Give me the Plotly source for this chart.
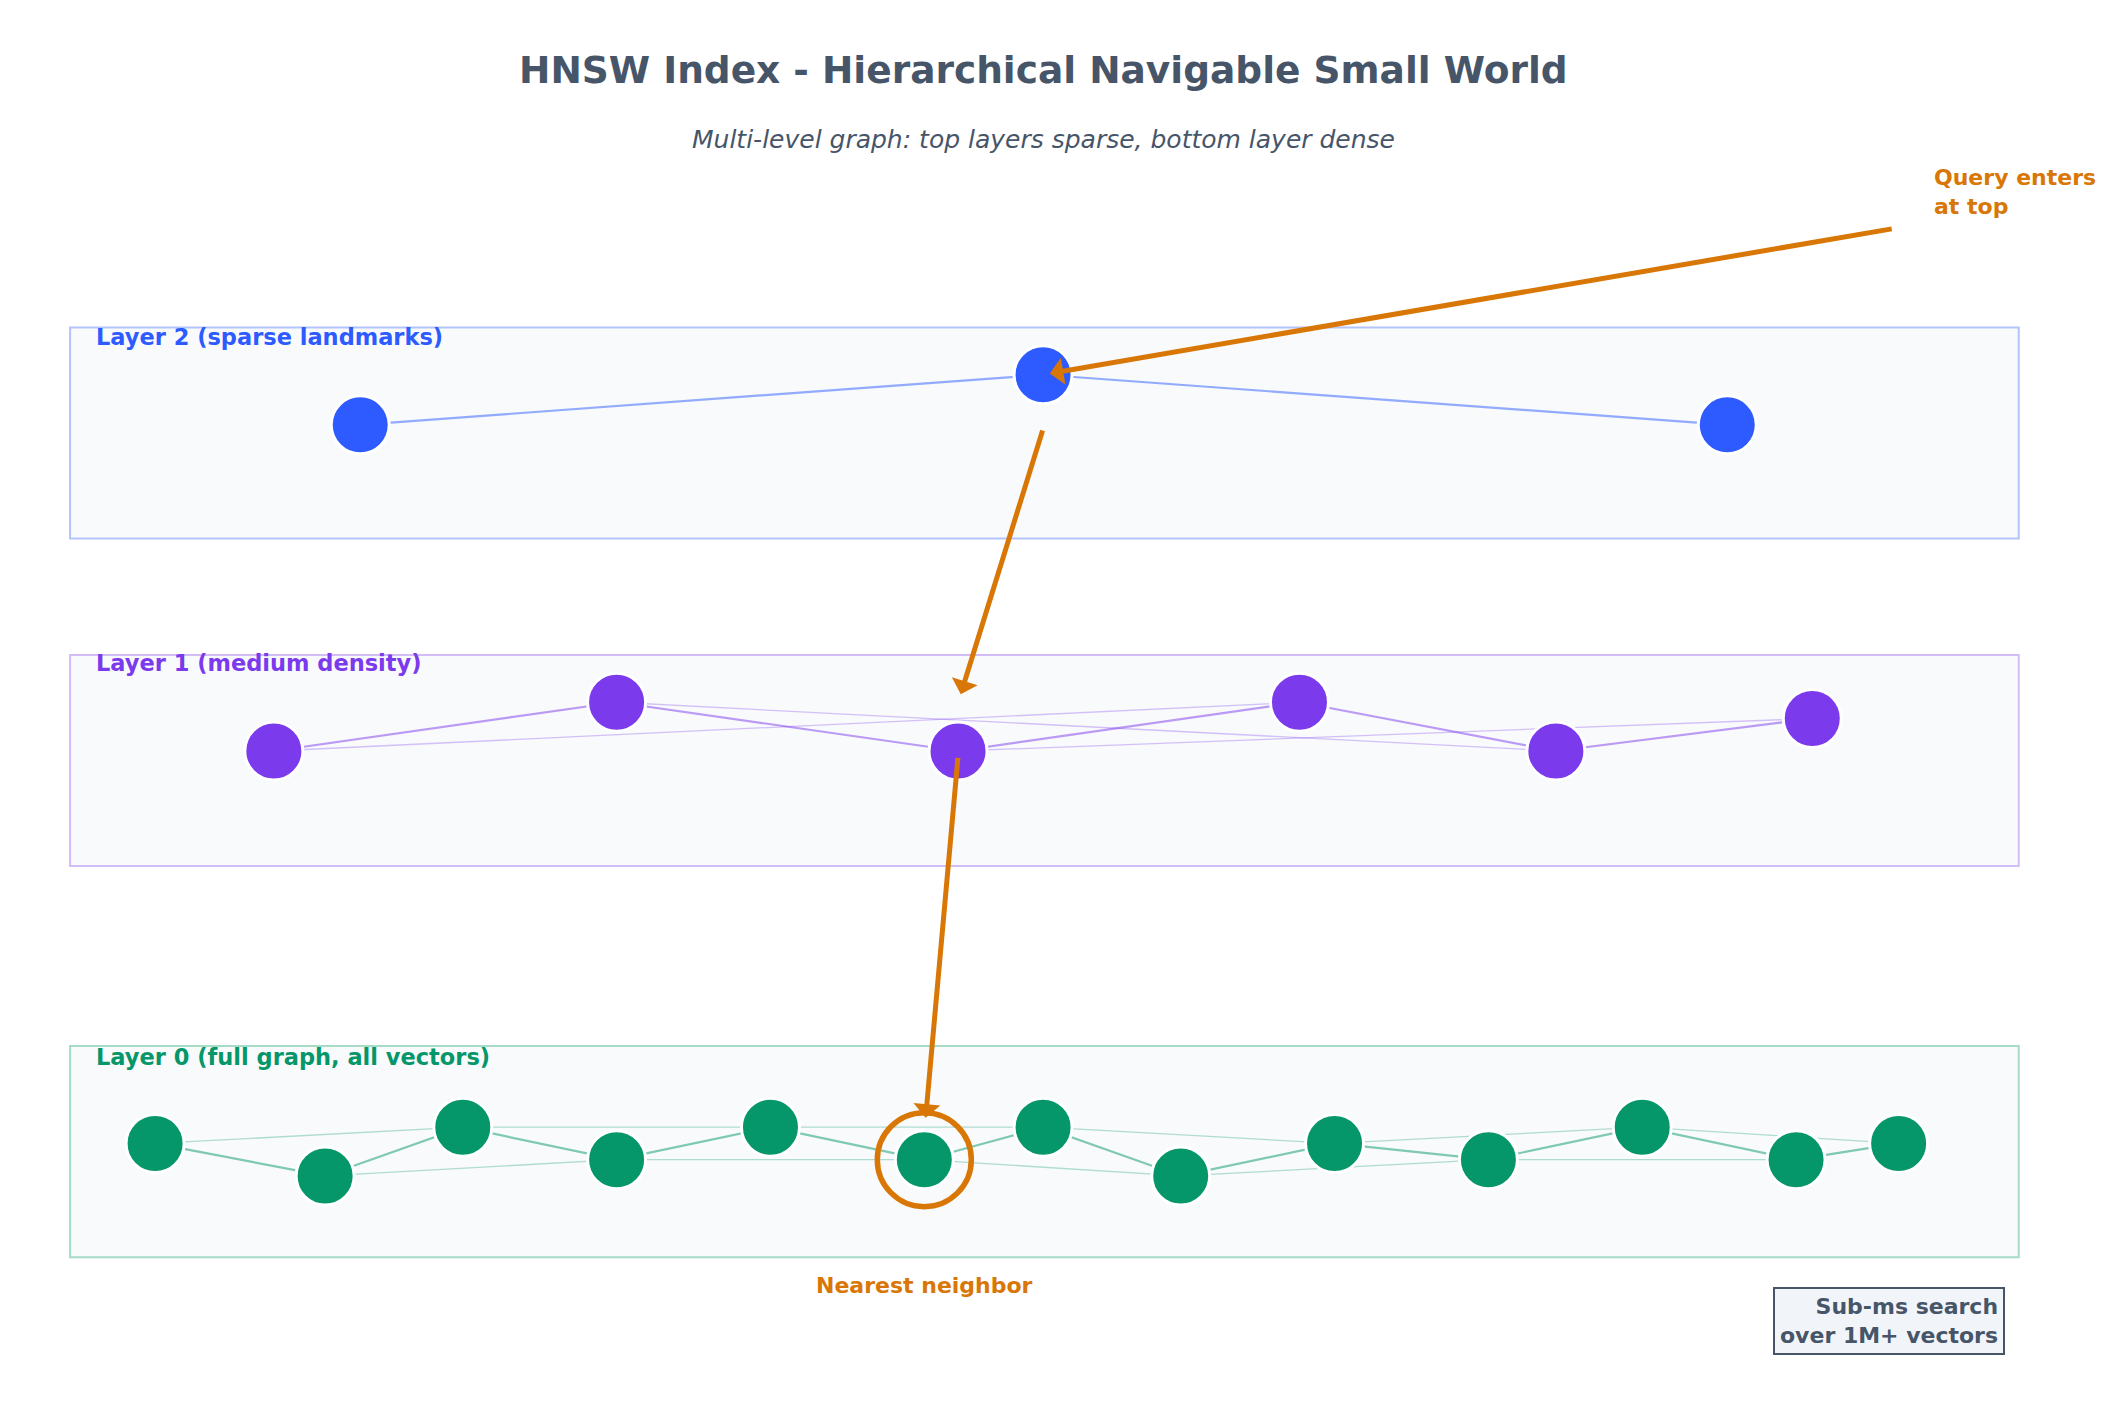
import plotly.graph_objects as go

# node positions (chart units, y downward)
L2x = [267, 773, 1280]; L2y = [315, 278, 315]
L1x = [203, 457, 710, 963, 1153, 1343]; L1y = [556, 520, 556, 520, 556, 532]
L0x = [115, 241, 343, 457, 571, 685, 773, 875, 989, 1103, 1217, 1331, 1407]
L0y = [846, 870, 834, 858, 834, 858, 834, 870, 846, 858, 834, 858, 846]
layer_names = ["Layer 2 (sparse landmarks)", "Layer 1 (medium density)", "Layer 0 (full graph, all vectors)"]
colors = ["#2e5bff", "#7c3aed", "#059669"]
edge_cols = ["rgba(46,91,255,0.5)", "rgba(124,58,237,0.5)", "rgba(5,150,105,0.5)"]
faint_cols = ["rgba(46,91,255,0.25)", "rgba(124,58,237,0.3)", "rgba(5,150,105,0.3)"]
box_y = [(243, 399), (485, 641), (774, 930)]
box_border = ["#b4c3fb", "#d3bdf7", "#a6dcc6"]

fig = go.Figure()
font = "DejaVu Sans"
layers = [(L2x, L2y), (L1x, L1y), (L0x, L0y)]
shapes = []
for i, (xs, ys) in enumerate(layers):
    y0, y1 = box_y[i]
    shapes.append(dict(type="rect", xref="x", yref="y", x0=52, x1=1496, y0=y0, y1=y1,
                       line=dict(color=box_border[i], width=2), fillcolor="#f8fafc", layer="below"))
    skip = 3 if i == 1 else 2
    if i > 0:
        for a in range(len(xs) - skip):
            fig.add_trace(go.Scatter(x=[xs[a], xs[a+skip]], y=[ys[a], ys[a+skip]], mode="lines",
                                     line=dict(color=faint_cols[i], width=1.3), hoverinfo="skip", showlegend=False))
    fig.add_trace(go.Scatter(x=xs, y=ys, mode="lines", line=dict(color=edge_cols[i], width=2.2),
                             hoverinfo="skip", showlegend=False))
    fig.add_trace(go.Scatter(x=xs, y=ys, mode="markers",
                             marker=dict(size=58, color=colors[i], line=dict(color="white", width=3)),
                             showlegend=False))

fig.add_trace(go.Scatter(x=[685], y=[858], mode="markers",
                         marker=dict(size=94, color="rgba(0,0,0,0)", line=dict(color="#d97706", width=5.5)),
                         showlegend=False))

ann = []
ann.append(dict(x=773, y=53, text="<b>HNSW Index - Hierarchical Navigable Small World</b>", showarrow=False,
                font=dict(family=font, size=37.5, color="#475569")))
ann.append(dict(x=773, y=104, text="<i>Multi-level graph: top layers sparse, bottom layer dense</i>", showarrow=False,
                font=dict(family=font, size=25, color="#475569")))
lab_y = [250, 491, 782]
for i in range(3):
    ann.append(dict(x=70, y=lab_y[i], text="<b>" + layer_names[i] + "</b>", showarrow=False, xanchor="left",
                    font=dict(family=font, size=22.5, color=colors[i])))
orange = "#d97706"
for (x0, y0, x1, y1) in [(1403, 170, 778, 277), (773, 318, 712, 514), (710, 560, 686, 827)]:
    ann.append(dict(x=x1, y=y1, ax=x0, ay=y0, axref="x", ayref="y", text="", showarrow=True,
                    arrowhead=1, arrowsize=0.9, arrowwidth=5, arrowcolor=orange))
ann.append(dict(x=1432, y=143, text="<b>Query enters<br>at top</b>", showarrow=False, xanchor="left", align="left",
                font=dict(family=font, size=22, color=orange)))
ann.append(dict(x=685, y=951, text="<b>Nearest neighbor</b>", showarrow=False,
                font=dict(family=font, size=22, color=orange)))
ann.append(dict(x=1400, y=977, text="<b>Sub-ms search<br>over 1M+ vectors</b>", showarrow=False, align="right",
                font=dict(family=font, size=22, color="#475569"), bgcolor="#f1f5f9",
                bordercolor="#475569", borderwidth=2, borderpad=5))

fig.update_layout(width=2116, height=1421, margin=dict(l=0, r=0, t=0, b=0),
                  plot_bgcolor="white", paper_bgcolor="white", shapes=shapes, annotations=ann,
                  xaxis=dict(range=[6, 1574], visible=False, fixedrange=True),
                  yaxis=dict(range=[1057, 7], visible=False, fixedrange=True))
fig.write_html("out.html")
